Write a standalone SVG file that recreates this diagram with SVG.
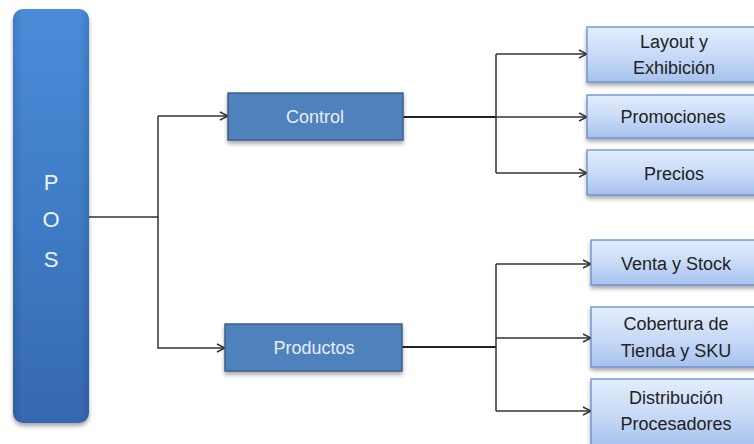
<svg xmlns="http://www.w3.org/2000/svg" width="754" height="444" viewBox="0 0 754 444">
  <defs>
    <linearGradient id="posFill" x1="0" y1="0" x2="0" y2="1">
      <stop offset="0" stop-color="#4a8bd8"/>
      <stop offset="0.5" stop-color="#3f7cc6"/>
      <stop offset="1" stop-color="#3668b0"/>
    </linearGradient>
    <linearGradient id="posSide" x1="0" y1="0" x2="1" y2="0">
      <stop offset="0" stop-color="#000" stop-opacity="0.12"/>
      <stop offset="0.12" stop-color="#000" stop-opacity="0"/>
      <stop offset="0.88" stop-color="#000" stop-opacity="0"/>
      <stop offset="1" stop-color="#000" stop-opacity="0.12"/>
    </linearGradient>
    <linearGradient id="leafFill" x1="0" y1="0" x2="0" y2="1">
      <stop offset="0" stop-color="#e3edfc"/>
      <stop offset="0.5" stop-color="#c9dbf7"/>
      <stop offset="1" stop-color="#a6c2ee"/>
    </linearGradient>
    <filter id="shadow" x="-20%" y="-20%" width="140%" height="140%">
      <feGaussianBlur in="SourceAlpha" stdDeviation="2"/>
      <feOffset dx="0" dy="3"/>
      <feComponentTransfer><feFuncA type="linear" slope="0.35"/></feComponentTransfer>
      <feMerge><feMergeNode/><feMergeNode in="SourceGraphic"/></feMerge>
    </filter>
    <marker id="arrow" viewBox="0 0 10 10" refX="9" refY="5" markerWidth="10" markerHeight="10" markerUnits="userSpaceOnUse" orient="auto">
      <path d="M1,1 L9,5 L1,9" fill="none" stroke="#333" stroke-width="1.4"/>
    </marker>
    <style>
      .wire { fill: none; stroke: #333; stroke-width: 1.5; }
      .trunk { fill: none; stroke: #222; stroke-width: 2.2; }
      .mid { fill: #4f81bd; stroke: #3a5f8c; stroke-width: 1.5; }
      .leaf { fill: url(#leafFill); stroke: #5a87c8; stroke-width: 1.2; }
      .midText { font-family: "Liberation Sans", Arial, sans-serif; font-size: 18px; fill: #e6eefa; text-anchor: middle; }
      .leafText { font-family: "Liberation Sans", Arial, sans-serif; font-size: 18px; fill: #222; text-anchor: middle; }
      .posText { font-family: "Liberation Sans", Arial, sans-serif; font-size: 22px; fill: #eef4fc; text-anchor: middle; }
    </style>
  </defs>

  <!-- connectors -->
  <g id="connectors">
    <path class="wire" d="M89,217 H158 V116"/>
    <path class="wire" d="M158,116 H228" marker-end="url(#arrow)"/>
    <path class="wire" d="M158,217 V348 H225" marker-end="url(#arrow)" stroke="#555"/>

    <path class="trunk" d="M403,117 H496"/>
    <path class="wire" d="M496,54 V173"/>
    <path class="wire" d="M496,54 H587" marker-end="url(#arrow)"/>
    <path class="wire" d="M496,117 H587" marker-end="url(#arrow)"/>
    <path class="wire" d="M496,173 H587" marker-end="url(#arrow)"/>

    <path class="trunk" d="M402,347 H496"/>
    <path class="wire" d="M496,264 V411"/>
    <path class="wire" d="M496,264 H591" marker-end="url(#arrow)"/>
    <path class="wire" d="M496,338 H591" marker-end="url(#arrow)"/>
    <path class="wire" d="M496,411 H591" marker-end="url(#arrow)"/>
  </g>

  <!-- root bar -->
  <g id="pos">
    <rect x="13" y="9" width="76" height="414" rx="10" fill="url(#posFill)" filter="url(#shadow)"/>
    <rect x="13" y="9" width="76" height="414" rx="10" fill="url(#posSide)"/>
    <text class="posText" x="51" y="190">P</text>
    <text class="posText" x="51" y="227">O</text>
    <text class="posText" x="51" y="267">S</text>
  </g>

  <!-- second level -->
  <g id="control">
    <rect class="mid" x="228" y="93" width="175" height="47" filter="url(#shadow)"/>
    <text class="midText" x="315" y="123">Control</text>
  </g>
  <g id="productos">
    <rect class="mid" x="225" y="324" width="177" height="47" filter="url(#shadow)"/>
    <text class="midText" x="314" y="354">Productos</text>
  </g>

  <!-- leaves under Control -->
  <g id="layout">
    <rect class="leaf" x="587" y="27" width="180" height="55" filter="url(#shadow)"/>
    <text class="leafText" x="674" y="48">Layout y</text>
    <text class="leafText" x="674" y="74">Exhibición</text>
  </g>
  <g id="promociones">
    <rect class="leaf" x="587" y="95" width="180" height="43" filter="url(#shadow)"/>
    <text class="leafText" x="673" y="123">Promociones</text>
  </g>
  <g id="precios">
    <rect class="leaf" x="587" y="150" width="180" height="45" filter="url(#shadow)"/>
    <text class="leafText" x="674" y="180">Precios</text>
  </g>

  <!-- leaves under Productos -->
  <g id="venta">
    <rect class="leaf" x="591" y="240" width="180" height="45" filter="url(#shadow)"/>
    <text class="leafText" x="676" y="270">Venta y Stock</text>
  </g>
  <g id="cobertura">
    <rect class="leaf" x="591" y="307" width="180" height="60" filter="url(#shadow)"/>
    <text class="leafText" x="676" y="330">Cobertura de</text>
    <text class="leafText" x="676" y="357">Tienda y SKU</text>
  </g>
  <g id="distribucion">
    <rect class="leaf" x="591" y="379" width="180" height="68" filter="url(#shadow)"/>
    <text class="leafText" x="676" y="404">Distribución</text>
    <text class="leafText" x="676" y="430">Procesadores</text>
  </g>
</svg>
